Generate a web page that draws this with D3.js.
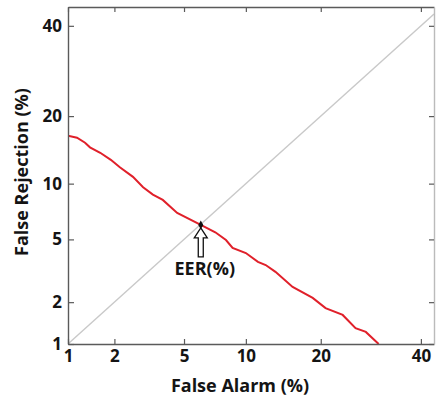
<!DOCTYPE html>
<html>
<head>
<meta charset="utf-8">
<script src="https://cdn.jsdelivr.net/npm/d3@7"></script>
<style>
  body { margin: 0; background: #fff; }
  svg { display: block; }
  text { font-family: "Open Sans", "DejaVu Sans", sans-serif; font-weight: bold; fill: #141414; }
</style>
</head>
<body>
<div id="chart"></div>
<script>
// DET curve, values in percent
const falseAlarm = [1.0, 1.15, 1.3, 1.4, 1.63, 1.9, 2.16, 2.59, 2.97, 3.38, 3.84, 4.6, 6.1, 7.2, 8.1, 8.7, 10.0, 11.3, 12.2, 13.4, 15.7, 18.7, 20.8, 23.8, 26.2, 28.2, 30.8]
const falseReject = [16.6, 16.3, 15.5, 14.8, 14.0, 13.0, 12.0, 10.8, 9.6, 8.8, 8.26, 7.04, 6.05, 5.5, 4.96, 4.45, 4.15, 3.66, 3.5, 3.17, 2.53, 2.14, 1.82, 1.63, 1.31, 1.23, 1.0]
const eer = [6.1, 6.05]
const tickLabels = [1, 2, 5, 10, 20, 40]
const xDomain = [1, 43]
const yDomain = [1, 44.8]
const diagonal = [1, 43]

// inverse normal cdf (Acklam)
function probit(p) {
  const a = [-39.69683028665376, 220.9460984245205, -275.9285104469687, 138.3577518672690, -30.66479806614716, 2.506628277459239]
  const b = [-54.47609879822406, 161.5858368580409, -155.6989798598866, 66.80131188771972, -13.28068155288572]
  const c = [-0.007784894002430293, -0.3223964580411365, -2.400758277161838, -2.549732539343734, 4.374664141464968, 2.938163982698783]
  const d = [0.007784695709041462, 0.3224671290700398, 2.445134137142996, 3.754408661907416]
  const pl = 0.02425
  let q, r
  if (p < pl) {
    q = Math.sqrt(-2 * Math.log(p))
    return (((((c[0] * q + c[1]) * q + c[2]) * q + c[3]) * q + c[4]) * q + c[5]) / ((((d[0] * q + d[1]) * q + d[2]) * q + d[3]) * q + 1)
  }
  if (p <= 1 - pl) {
    q = p - 0.5
    r = q * q
    return (((((a[0] * r + a[1]) * r + a[2]) * r + a[3]) * r + a[4]) * r + a[5]) * q / (((((b[0] * r + b[1]) * r + b[2]) * r + b[3]) * r + b[4]) * r + 1)
  }
  q = Math.sqrt(-2 * Math.log(1 - p))
  return -(((((c[0] * q + c[1]) * q + c[2]) * q + c[3]) * q + c[4]) * q + c[5]) / ((((d[0] * q + d[1]) * q + d[2]) * q + d[3]) * q + 1)
}
const pr = v => probit(v / 100)

const width = 436, height = 399
const m = { left: 68, right: 434, top: 7, bottom: 344 }

const svg = d3.select("#chart").append("svg")
  .attr("width", width)
  .attr("height", height)

const x = d3.scaleLinear().domain(xDomain.map(pr)).range([m.left, m.right])
const y = d3.scaleLinear().domain(yDomain.map(pr)).range([m.bottom, m.top])
const px = v => x(pr(v))
const py = v => y(pr(v))

svg.append("defs").append("clipPath").attr("id", "plot")
  .append("rect")
  .attr("x", m.left).attr("y", m.top)
  .attr("width", m.right - m.left).attr("height", m.bottom - m.top)

// diagonal
svg.append("line")
  .attr("clip-path", "url(#plot)")
  .attr("x1", px(diagonal[0])).attr("y1", py(diagonal[0]))
  .attr("x2", px(diagonal[1])).attr("y2", py(diagonal[1]))
  .style("stroke", "#c9c9c9")
  .style("stroke-width", 1.3)

// curve
const line = d3.line()
  .x((d, i) => px(falseAlarm[i]))
  .y(d => py(d))
svg.append("path")
  .datum(falseReject)
  .attr("clip-path", "url(#plot)")
  .attr("d", line)
  .style("fill", "none")
  .style("stroke", "#e0202a")
  .style("stroke-width", 2)

// axes
const tv = tickLabels.map(pr)
const fmt = (d, i) => tickLabels[i]

svg.append("g")
  .attr("class", "axis")
  .attr("transform", `translate(0, ${m.bottom})`)
  .call(d3.axisBottom(x).tickValues(tv).tickFormat(fmt).tickSizeInner(-5).tickSizeOuter(0).tickPadding(6))

svg.append("g")
  .attr("class", "axis")
  .attr("transform", `translate(${m.left}, 0)`)
  .call(d3.axisLeft(y).tickValues(tv).tickFormat(fmt).tickSizeInner(-6).tickSizeOuter(0).tickPadding(6))

svg.append("g")
  .attr("class", "axis")
  .attr("transform", `translate(0, ${m.top})`)
  .call(d3.axisTop(x).tickValues(tv).tickFormat("").tickSizeInner(-5).tickSizeOuter(0))

svg.append("g")
  .attr("class", "axis faint")
  .attr("transform", `translate(${m.right}, 0)`)
  .call(d3.axisRight(y).tickValues(tv).tickFormat("").tickSizeInner(-5).tickSizeOuter(0))

svg.selectAll(".axis path").style("stroke", "#5a5a5a").style("stroke-width", 1.4)
svg.selectAll(".axis line").style("stroke", "#5a5a5a").style("stroke-width", 1.2)
svg.selectAll(".faint path").style("stroke", "#bbb")
svg.selectAll(".axis text").style("font-size", "17px").attr("font-family", null).attr("fill", "#141414")

// axis titles
svg.append("text")
  .attr("text-anchor", "middle")
  .attr("x", 240)
  .attr("y", 392)
  .style("font-size", "18px")
  .text("False Alarm (%)")

svg.append("text")
  .attr("text-anchor", "middle")
  .attr("transform", `translate(28, 172) rotate(-90)`)
  .style("font-size", "18px")
  .text("False Rejection (%)")

// EER marker
const ex = px(eer[0]), ey = py(eer[1])
svg.append("path")
  .attr("d", d3.symbol(d3.symbolDiamond, 22))
  .attr("transform", `translate(${ex}, ${ey})`)
  .style("fill", "#111")

const arrow = d3.path()
arrow.moveTo(ex, ey + 3)
arrow.lineTo(ex + 6.5, ey + 13)
arrow.lineTo(ex + 2.5, ey + 13)
arrow.lineTo(ex + 2.5, ey + 32)
arrow.lineTo(ex - 2.5, ey + 32)
arrow.lineTo(ex - 2.5, ey + 13)
arrow.lineTo(ex - 6.5, ey + 13)
arrow.closePath()
svg.append("path")
  .attr("d", arrow.toString())
  .style("fill", "#fff")
  .style("stroke", "#111")
  .style("stroke-width", 1.3)

svg.append("text")
  .attr("text-anchor", "middle")
  .attr("x", ex + 4)
  .attr("y", ey + 50)
  .style("font-size", "18px")
  .text("EER(%)")
</script>
</body>
</html>
